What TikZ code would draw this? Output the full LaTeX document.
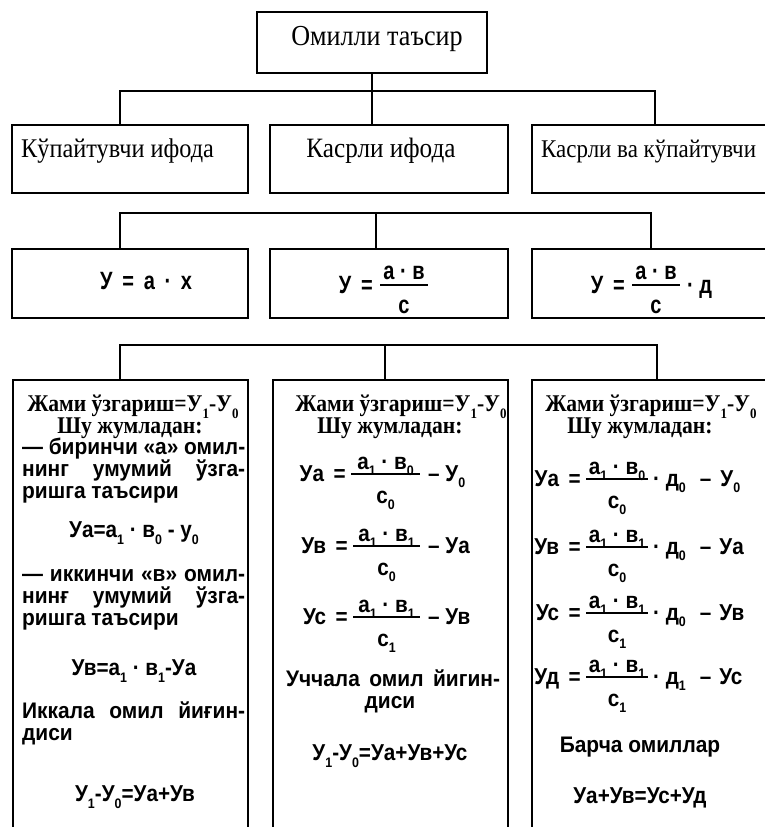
\documentclass[tikz,border=0pt]{standalone}
\usepackage{graphicx}
\usepackage{fontspec}
\setmainfont{Liberation Serif}
\newfontfamily\tmsc[FakeStretch=0.9]{Liberation Serif}
\newfontfamily\snsc[FakeStretch=0.93]{Liberation Sans}
\newfontfamily\snsg[FakeStretch=0.9]{Liberation Sans}
\newfontfamily\snsf[FakeStretch=0.8]{Liberation Sans}
\usetikzlibrary{calc,fit}
\newcommand\sbs[1]{\raisebox{-0.3em}{\scalebox{0.6}{#1}}}
\def\feq{7}\def\fnum{5}\def\fden{29}\def\fgap{5}
\newcommand\fl[8]{%
  \coordinate (#1a) at (#2,#4);
  \coordinate (#1b) at (#3,#4);
  \draw[fbar] (#1a) -- (#1b);
  \node[fsty,anchor=base east] (#1L) at ($(#1a)+(-\fgap,\feq)$) {#5};
  \node[fsty,anchor=base] (#1N) at ($(#1a)!0.5!(#1b)+(0,-\fnum)$) {#6};
  \node[fsty,anchor=base] (#1D) at ($(#1a)!0.5!(#1b)+(0,\fden)$) {#7};
  \node[fsty,anchor=base west] (#1R) at ($(#1b)+(\fgap,\feq)$) {#8};}
\begin{document}
\begin{tikzpicture}[x=1pt,y=-1pt,
  box/.style={draw,line width=2.8pt,inner sep=0pt},
  conn/.style={line width=2.3pt},
  fbar/.style={line width=1.9pt},
  t1/.style={inner sep=0pt,font=\tmsc\fontsize{27}{27}\selectfont},
  t3/.style={inner sep=0pt,font=\snsf\bfseries\fontsize{25}{25}\selectfont},
  hd/.style={inner sep=0pt,text height=0.7em,text depth=0.2em,font=\tmsc\bfseries\fontsize{24}{24}\selectfont},
  tx/.style={inner sep=0pt,text height=0.72em,text depth=0.2em,font=\snsc\bfseries\fontsize{22.5}{22.5}\selectfont},
  ff/.style={inner sep=0pt,font=\snsg\bfseries\fontsize{23}{23}\selectfont},
]
\useasboundingbox (0,0) rectangle (765,827);
% boxes
\node[box,fit={(257,12) (487,73)}] (top) {};
\node[box,fit={(12,125) (248,193)}] (r2a) {};
\node[box,fit={(270,125) (508,193)}] (r2b) {};
\node[box,fit={(532,125) (775,193)}] (r2c) {};
\node[box,fit={(12,249) (248,318)}] (r3a) {};
\node[box,fit={(270,249) (508,318)}] (r3b) {};
\node[box,fit={(532,249) (775,318)}] (r3c) {};
\node[box,fit={(13,380) (248,840)}] (r4a) {};
\node[box,fit={(273,380) (508,840)}] (r4b) {};
\node[box,fit={(532,380) (775,840)}] (r4c) {};
% connectors
\coordinate (k1) at (120,91); \coordinate (k2) at (655,91);
\draw[conn] (top.south) -- (r2b.north -| top.south);
\draw[conn] (r2a.north -| k1) -- (k1) -- (k2) -- (r2c.north -| k2);
\coordinate (m1) at (120,213); \coordinate (m2) at (651,213); \coordinate (m0) at (376,213);
\draw[conn] (r3a.north -| m1) -- (m1) -- (m2) -- (r3c.north -| m2);
\draw[conn] (m0) -- (r3b.north -| m0);
\coordinate (n1) at (120,345); \coordinate (n2) at (657,345); \coordinate (n0) at (385,345);
\draw[conn] (r4a.north -| n1) -- (n1) -- (n2) -- (r4c.north -| n2);
\draw[conn] (n0) -- (r4b.north -| n0);
% row 1, 2
\node[t1,font=\tmsc\fontsize{29}{29}\selectfont,anchor=mid] (tt) at (377,43) {Омилли таъсир};
\node[t1,anchor=mid west] (k1t) at (21,155) {Кўпайтувчи ифода};
\node[t1,font=\tmsc\fontsize{28}{28}\selectfont,anchor=mid] (k2t) at (381,155) {Касрли ифода};
\node[t1,font=\tmsc\fontsize{25.5}{25.5}\selectfont,anchor=mid west] (k3t) at (541,155) {Касрли ва кўпайтувчи};
% row 3
\node[t3,anchor=mid west] (f1) at (100,287) {У\, = \,а\, · \,х};
\begin{scope}[fsty/.style=t3]
\def\feq{8}\def\fnum{6}\def\fden{28}\def\fgap{7}
\fl{fa}{380}{428}{285}{У\, =}{а · в}{с}{}
\fl{fb}{632}{680}{285}{У\, =}{а · в}{с}{· д}
\end{scope}
% row 4, box 1
\node[hd,anchor=mid] (a1) at (133,409) {Жами ўзгариш=У\sbs{1}-У\sbs{0}};
\node[hd,anchor=mid] (a2) at (130,431) {Шу жумладан:};
\node[tx,anchor=mid west] (a3) at (22,452) {\makebox[223pt][s]{— биринчи «а» омил-}};
\node[tx,anchor=mid west] (a4) at (22,474) {\makebox[223pt][s]{нинг умумий ўзга-}};
\node[tx,anchor=mid west] (a5) at (22,496) {ришга таъсири};
\node[ff,anchor=mid] (a6) at (134,535) {Уа=а\sbs{1} · в\sbs{0} - у\sbs{0}};
\node[tx,anchor=mid west] (a7) at (22,579) {\makebox[223pt][s]{— иккинчи «в» омил-}};
\node[tx,anchor=mid west] (a8) at (22,601) {\makebox[223pt][s]{нинғ умумий ўзга-}};
\node[tx,anchor=mid west] (a9) at (22,623) {ришга таъсири};
\node[ff,anchor=mid] (a10) at (134,673) {Ув=а\sbs{1} · в\sbs{1}-Уа};
\node[tx,anchor=mid west] (a11) at (22,716) {\makebox[223pt][s]{Иккала омил йиғин-}};
\node[tx,anchor=mid west] (a12) at (22,738) {диси};
\node[ff,anchor=mid] (a13) at (135,799) {У\sbs{1}-У\sbs{0}=Уа+Ув};
% row 4, box 2
\node[hd,anchor=mid] (b1) at (401,409) {Жами ўзгариш=У\sbs{1}-У\sbs{0}};
\node[hd,anchor=mid] (b2) at (390,431) {Шу жумладан:};
\begin{scope}[fsty/.style=ff]
\fl{ba}{351}{420}{474}{Уа\, =}{а\sbs{1} · в\sbs{0}}{с\sbs{0}}{\hspace{3pt}– У\sbs{0}}
\fl{bb}{353}{420}{546}{Ув\, =}{а\sbs{1} · в\sbs{1}}{с\sbs{0}}{\hspace{3pt}– Уа}
\fl{bc}{353}{420}{617}{Ус\, =}{а\sbs{1} · в\sbs{1}}{с\sbs{1}}{\hspace{3pt}– Ув}
\end{scope}
\node[tx,anchor=mid] (b3) at (393,684) {\makebox[214pt][s]{Уччала омил йигин-}};
\node[tx,anchor=mid] (b4) at (390,706) {диси};
\node[ff,anchor=mid] (b5) at (390,758) {У\sbs{1}-У\sbs{0}=Уа+Ув+Ус};
% row 4, box 3
\node[hd,anchor=mid] (c1) at (651,409) {Жами ўзгариш=У\sbs{1}-У\sbs{0}};
\node[hd,anchor=mid] (c2) at (640,431) {Шу жумладан:};
\begin{scope}[fsty/.style=ff]
\fl{ca}{586}{648}{479}{Уа\, =}{а\sbs{1} · в\sbs{0}}{с\sbs{0}}{· д\sbs{0}\hspace{14pt}–\hspace{9pt}У\sbs{0}}
\fl{cb}{586}{648}{547}{Ув\, =}{а\sbs{1} · в\sbs{1}}{с\sbs{0}}{· д\sbs{0}\hspace{14pt}–\hspace{8pt}Уа}
\fl{cc}{586}{648}{613}{Ус\, =}{а\sbs{1} · в\sbs{1}}{с\sbs{1}}{· д\sbs{0}\hspace{14pt}–\hspace{8pt}Ув}
\fl{cd}{586}{648}{677}{Уд\, =}{а\sbs{1} · в\sbs{1}}{с\sbs{1}}{· д\sbs{1}\hspace{14pt}–\hspace{8pt}Ус}
\end{scope}
\node[tx,anchor=mid] (c3) at (640,750) {Барча омиллар};
\node[ff,anchor=mid] (c4) at (640,801) {Уа+Ув=Ус+Уд};
\end{tikzpicture}
\end{document}
